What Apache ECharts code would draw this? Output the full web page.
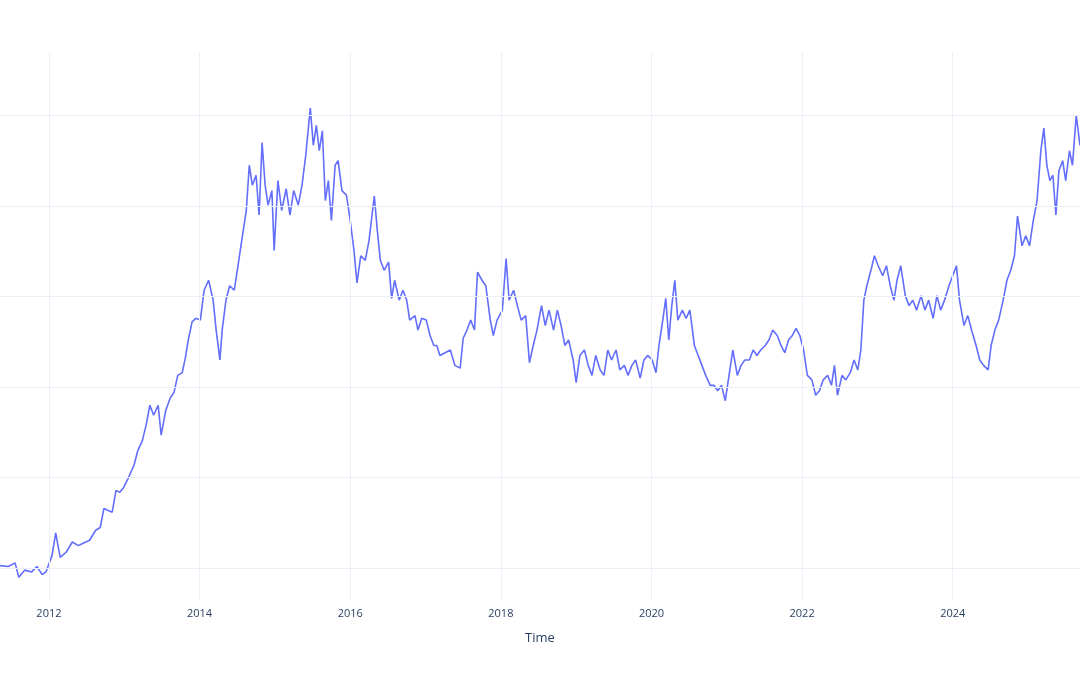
<!DOCTYPE html>
<html><head><meta charset="utf-8">
<script src="https://cdn.jsdelivr.net/npm/echarts@6/dist/echarts.min.js"></script>
<style>html,body{margin:0;padding:0;background:#fff}#c{width:1080px;height:675px}</style>
</head><body><div id="c"></div>
<script>
const years = [2011.35,2011.46,2011.55,2011.6,2011.68,2011.77,2011.84,2011.91,2011.96,2012.04,2012.09,2012.12,2012.15,2012.23,2012.31,2012.39,2012.46,2012.54,2012.62,2012.68,2012.73,2012.78,2012.84,2012.89,2012.94,2012.99,2013.05,2013.13,2013.18,2013.24,2013.29,2013.34,2013.39,2013.45,2013.49,2013.55,2013.61,2013.66,2013.71,2013.77,2013.81,2013.85,2013.90,2013.95,2014.01,2014.06,2014.12,2014.18,2014.22,2014.27,2014.30,2014.35,2014.40,2014.46,2014.51,2014.56,2014.62,2014.66,2014.70,2014.75,2014.79,2014.83,2014.87,2014.91,2014.96,2014.99,2015.04,2015.09,2015.15,2015.20,2015.25,2015.31,2015.36,2015.41,2015.47,2015.51,2015.55,2015.59,2015.63,2015.67,2015.71,2015.75,2015.80,2015.84,2015.89,2015.95,2016.00,2016.05,2016.09,2016.14,2016.20,2016.25,2016.32,2016.36,2016.40,2016.45,2016.51,2016.55,2016.59,2016.65,2016.70,2016.75,2016.79,2016.86,2016.90,2016.95,2017.01,2017.06,2017.11,2017.15,2017.19,2017.26,2017.33,2017.39,2017.46,2017.50,2017.55,2017.60,2017.65,2017.69,2017.75,2017.80,2017.86,2017.90,2017.95,2018.02,2018.07,2018.11,2018.17,2018.22,2018.27,2018.33,2018.38,2018.43,2018.48,2018.54,2018.59,2018.64,2018.70,2018.75,2018.80,2018.85,2018.90,2018.96,2019.00,2019.05,2019.11,2019.16,2019.21,2019.26,2019.32,2019.37,2019.42,2019.47,2019.53,2019.58,2019.64,2019.69,2019.74,2019.79,2019.85,2019.90,2019.95,2020.01,2020.06,2020.10,2020.15,2020.19,2020.23,2020.27,2020.31,2020.35,2020.41,2020.46,2020.51,2020.57,2020.62,2020.67,2020.72,2020.78,2020.83,2020.88,2020.93,2020.98,2021.03,2021.08,2021.14,2021.19,2021.24,2021.30,2021.35,2021.40,2021.45,2021.51,2021.56,2021.61,2021.67,2021.72,2021.77,2021.82,2021.87,2021.92,2021.97,2022.02,2022.07,2022.13,2022.18,2022.23,2022.28,2022.34,2022.39,2022.43,2022.47,2022.53,2022.58,2022.64,2022.69,2022.74,2022.78,2022.82,2022.86,2022.92,2022.96,2023.01,2023.07,2023.12,2023.17,2023.22,2023.26,2023.31,2023.37,2023.42,2023.47,2023.52,2023.58,2023.63,2023.68,2023.74,2023.79,2023.84,2023.90,2023.95,2024.00,2024.05,2024.09,2024.15,2024.20,2024.25,2024.31,2024.36,2024.41,2024.47,2024.51,2024.56,2024.61,2024.67,2024.72,2024.77,2024.82,2024.86,2024.92,2024.97,2025.02,2025.07,2025.12,2025.17,2025.21,2025.25,2025.29,2025.33,2025.37,2025.41,2025.46,2025.50,2025.55,2025.59,2025.64,2025.69];
const values = [0.03,0.02,0.06,-0.10,-0.02,-0.04,0.02,-0.07,-0.04,0.14,0.39,0.25,0.12,0.18,0.29,0.25,0.28,0.31,0.42,0.45,0.66,0.64,0.62,0.86,0.84,0.89,0.99,1.14,1.30,1.41,1.58,1.80,1.69,1.80,1.47,1.74,1.88,1.94,2.13,2.16,2.32,2.52,2.72,2.76,2.74,3.07,3.18,2.96,2.63,2.30,2.63,2.96,3.12,3.07,3.34,3.62,3.95,4.45,4.23,4.34,3.90,4.70,4.23,4.01,4.17,3.51,4.28,3.95,4.19,3.90,4.17,4.01,4.23,4.56,5.08,4.67,4.89,4.61,4.83,4.06,4.28,3.84,4.45,4.50,4.17,4.12,3.84,3.51,3.15,3.45,3.40,3.62,4.11,3.73,3.40,3.29,3.38,2.98,3.18,2.96,3.07,2.96,2.74,2.79,2.63,2.76,2.74,2.57,2.46,2.46,2.35,2.38,2.41,2.24,2.21,2.54,2.63,2.74,2.63,3.27,3.18,3.12,2.74,2.57,2.74,2.85,3.42,2.96,3.07,2.90,2.74,2.79,2.27,2.46,2.63,2.90,2.68,2.85,2.63,2.85,2.68,2.46,2.52,2.30,2.05,2.35,2.41,2.24,2.13,2.35,2.19,2.13,2.41,2.30,2.41,2.19,2.24,2.13,2.24,2.30,2.10,2.30,2.35,2.30,2.16,2.46,2.74,2.98,2.52,2.90,3.18,2.74,2.85,2.76,2.85,2.46,2.35,2.24,2.13,2.02,2.02,1.96,2.02,1.85,2.13,2.41,2.13,2.24,2.30,2.30,2.41,2.35,2.41,2.46,2.52,2.63,2.57,2.46,2.38,2.52,2.57,2.65,2.57,2.41,2.13,2.08,1.91,1.96,2.08,2.13,2.02,2.24,1.91,2.13,2.08,2.16,2.30,2.19,2.41,2.96,3.12,3.31,3.45,3.34,3.23,3.34,3.12,2.96,3.18,3.34,3.01,2.90,2.96,2.85,3.01,2.85,2.96,2.76,3.01,2.85,2.98,3.12,3.23,3.34,2.96,2.68,2.79,2.63,2.46,2.30,2.24,2.19,2.46,2.63,2.74,2.96,3.18,3.29,3.45,3.89,3.56,3.67,3.56,3.84,4.06,4.61,4.86,4.45,4.28,4.34,3.90,4.39,4.50,4.28,4.61,4.45,5.00,4.67];
const yGrid = [0,1,2,3,4,5];
const xTicks = [2012,2014,2016,2018,2020,2022,2024];
const gridColor = '#EBF0F8';
const chart = echarts.init(document.getElementById('c'));
chart.setOption({
  animation:false,
  grid:{left:0,right:0,top:52,bottom:75},
  xAxis:{type:'value',min:2011.35,max:2025.69,axisLine:{show:false},axisTick:{show:false},axisLabel:{show:false},splitLine:{show:false},
    name:'Time',nameLocation:'middle',nameGap:32,nameTextStyle:{color:'#2a3f5f',fontSize:13,fontFamily:'Open Sans'}},
  yAxis:{type:'value',min:-0.35,max:5.70,axisLine:{show:false},axisTick:{show:false},axisLabel:{show:false},splitLine:{show:false}},
  series:[
    {type:'line',data:years.map((y,i)=>[y,values[i]]),showSymbol:false,lineStyle:{color:'#636efa',width:1.6},z:3,
     markLine:{silent:true,symbol:'none',animation:false,
       lineStyle:{color:gridColor,width:1,type:'solid'},
       data:[...yGrid.map(v=>({yAxis:v,label:{show:false}})),
             ...xTicks.map(v=>({xAxis:v,label:{show:true,position:'start',formatter:String(v),color:'#2a3f5f',fontSize:11,fontFamily:'Open Sans',distance:8}}))]}}
  ]
});
</script></body></html>
